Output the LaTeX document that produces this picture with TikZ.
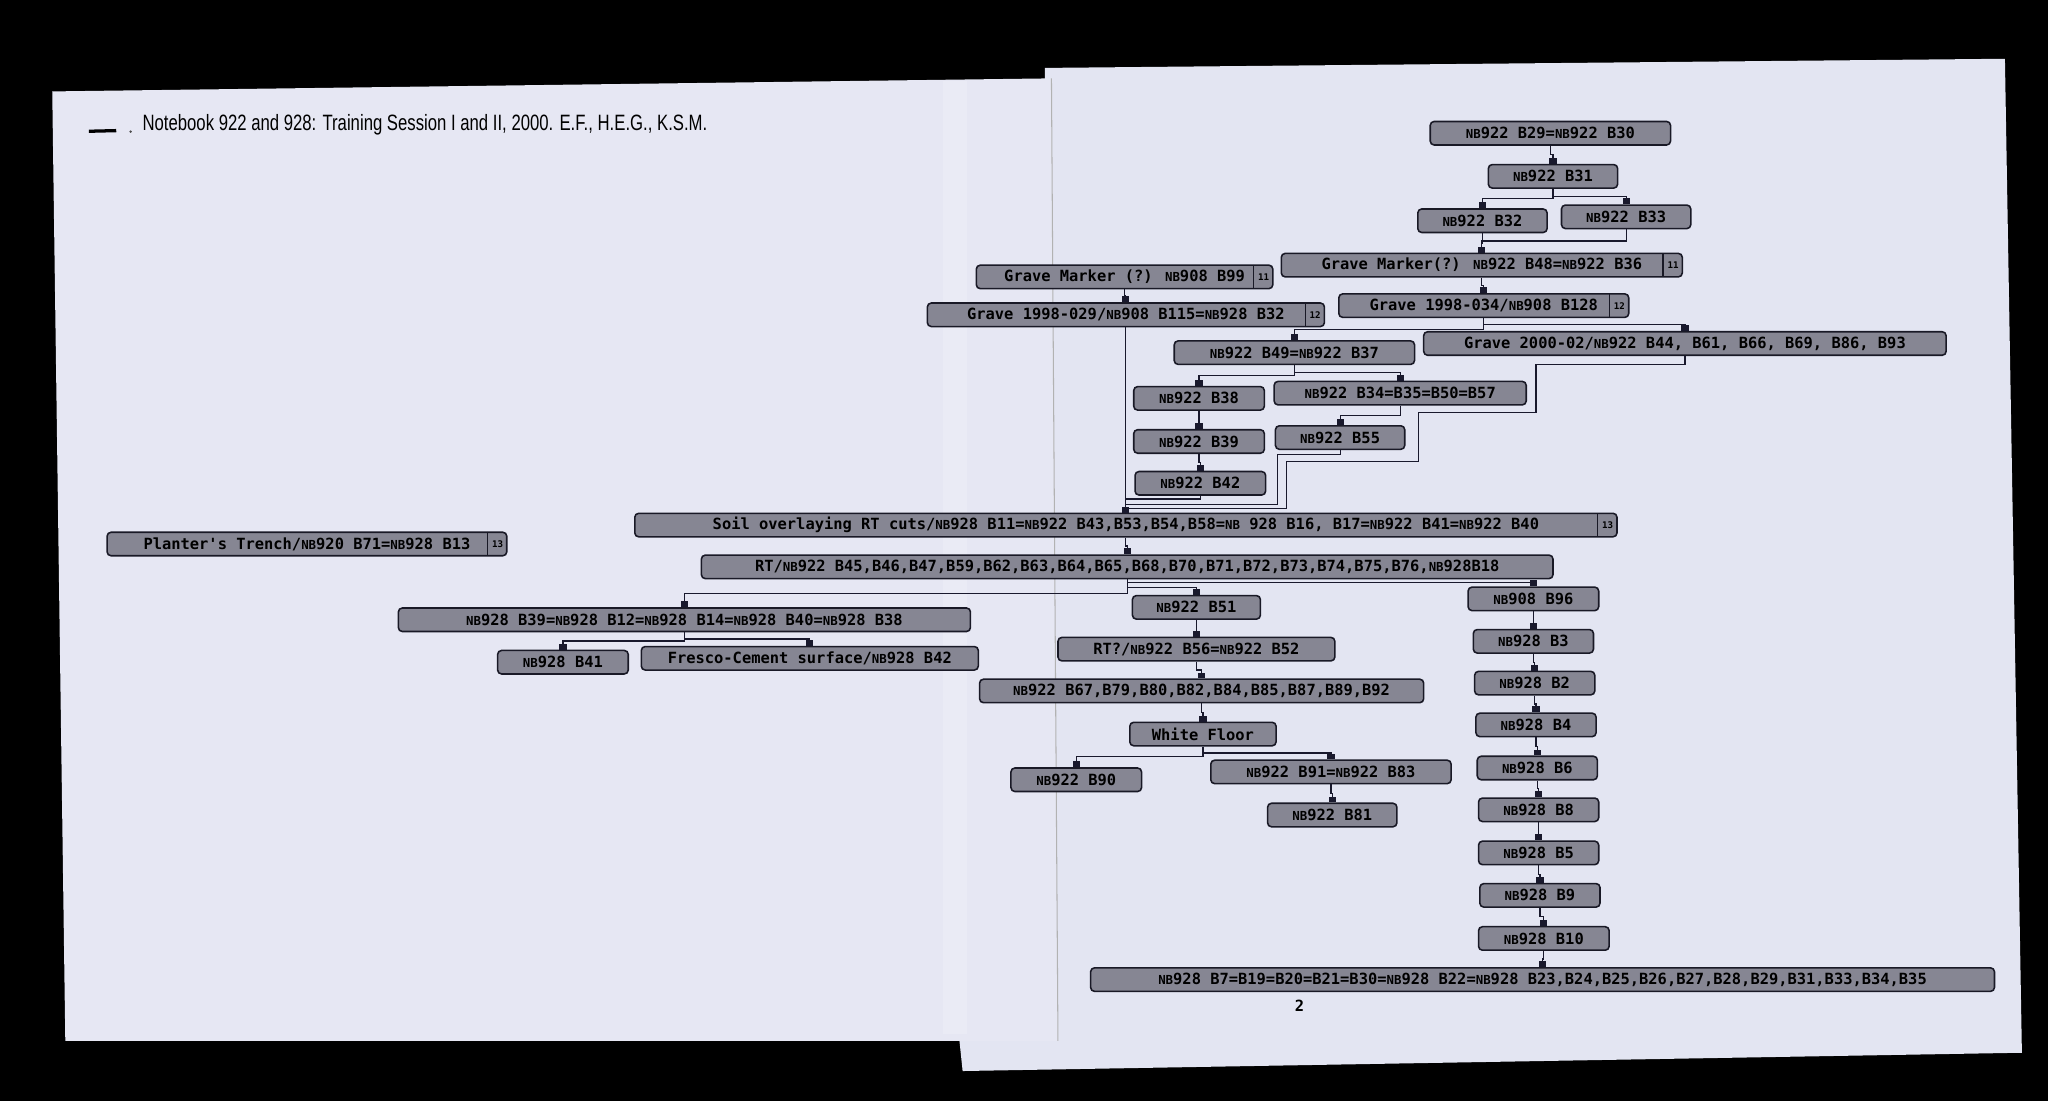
\documentclass[tikz,border=0pt]{standalone}
\usepackage{fontspec}
\newfontfamily\boxfont{DejaVu Sans Mono}
\newfontfamily\titlefont{Liberation Sans}
\usetikzlibrary{arrows.meta,calc}

\definecolor{paperL}{RGB}{230,231,243}
\definecolor{paperR}{RGB}{227,229,242}
\definecolor{boxfill}{RGB}{134,134,147}
\definecolor{boxline}{RGB}{25,25,38}
\definecolor{linecol}{RGB}{25,25,45}
\newcommand{\NBs}{{\fontsize{9.5}{10}\selectfont NB}}

\begin{document}
\begin{tikzpicture}[x=1pt, y=-1pt,
font=\boxfont\bfseries\fontsize{11.8}{14}\selectfont,
unit/.style={draw=boxline, fill=boxfill, line width=1.2pt, rounded corners=3pt,
    minimum height=18pt, inner sep=0pt, anchor=center},
tagcell/.style={minimum width=15pt, minimum height=18pt, inner sep=0pt, anchor=east,
    font=\boxfont\bfseries\fontsize{7}{8}\selectfont},
link/.style={draw=linecol, line width=0.9pt, -{Square[length=4.5pt,width=5.5pt]},
    to path={|- ($(\tikztostart)!.5!(\tikztotarget)$) -| (\tikztotarget)}},
merge/.style={draw=linecol, line width=0.9pt},
]
\useasboundingbox (0,0) rectangle (1568,843);

% scanned sheets
\fill[black] (0,0) rectangle (1568,843);
\fill[paperR] (800,52) -- (1535,45) -- (1548,806) -- (737,820) -- (733,782) -- (800,782) -- cycle;
\fill[paperL] (40,70) -- (805,60) -- (810,797) -- (50,797) -- cycle;
\fill[white, opacity=0.18] (722,62) rectangle (740,792);
\draw[gray!60, line width=0.8pt] (805,60) -- (810,797);

% header
\draw[black, line width=2.5pt] (68,100.5) -- (89,100);
\fill[black!70] (100,100.8) circle (1pt);
\node[font=\titlefont\fontsize{17}{20}\selectfont, anchor=base west, xscale=0.753, inner sep=0pt] (title) at (109,100)
  {Notebook 922 and 928: Training Session I and II, 2000. E.F., H.E.G., K.S.M.};

% top of the matrix
\node[unit, minimum width=184pt] (b2930) at (1187,102) {\NBs922 B29=\NBs922 B30};
\node[unit, minimum width=99pt] (b31) at (1189,135) {\NBs922 B31};
\node[unit, minimum width=99pt] (b32) at (1135,169) {\NBs922 B32};
\node[unit, minimum width=99pt] (b33) at (1245,166) {\NBs922 B33};

\node[unit, minimum width=307pt] (gm922) at (1134.5,203) {Grave Marker(?) \NBs922 B48=\NBs922 B36\hspace{15pt}};
\node[tagcell] (gm922t) at (gm922.east) {11};
\draw[boxline, line width=0.8pt] (gm922t.north west) -- (gm922t.south west);

\node[unit, minimum width=227pt] (gm908) at (861,212) {Grave Marker (?) \NBs908 B99\hspace{15pt}};
\node[tagcell] (gm908t) at (gm908.east) {11};
\draw[boxline, line width=0.8pt] (gm908t.north west) -- (gm908t.south west);

\node[unit, minimum width=304pt] (g029) at (862,241) {Grave 1998-029/\NBs908 B115=\NBs928 B32\hspace{15pt}};
\node[tagcell] (g029t) at (g029.east) {12};
\draw[boxline, line width=0.8pt] (g029t.north west) -- (g029t.south west);

\node[unit, minimum width=222pt] (g034) at (1136,234) {Grave 1998-034/\NBs908 B128\hspace{15pt}};
\node[tagcell] (g034t) at (g034.east) {12};
\draw[boxline, line width=0.8pt] (g034t.north west) -- (g034t.south west);

\node[unit, minimum width=184pt] (b4937) at (991,270) {\NBs922 B49=\NBs922 B37};
\node[unit, minimum width=400pt] (g2000) at (1290,263) {Grave 2000-02/\NBs922 B44, B61, B66, B69, B86, B93};
\node[unit, minimum width=100pt] (b38) at (918,305) {\NBs922 B38};
\node[unit, minimum width=193pt] (b34) at (1072,301) {\NBs922 B34=B35=B50=B57};
\node[unit, minimum width=100pt] (b39) at (918,338) {\NBs922 B39};
\node[unit, minimum width=99pt] (b55) at (1026,335) {\NBs922 B55};
\node[unit, minimum width=100pt] (b42) at (919,370) {\NBs922 B42};

% soil and RT
\node[unit, minimum width=752pt] (soil) at (862,402) {Soil overlaying RT cuts/\NBs928 B11=\NBs922 B43,B53,B54,B58=\NBs{} 928 B16, B17=\NBs922 B41=\NBs922 B40\hspace{15pt}};
\node[tagcell] (soilt) at (soil.east) {13};
\draw[boxline, line width=0.8pt] (soilt.north west) -- (soilt.south west);

\node[unit, minimum width=306pt] (planter) at (235,416.5) {Planter's Trench/\NBs920 B71=\NBs928 B13\hspace{15pt}};
\node[tagcell] (plantert) at (planter.east) {13};
\draw[boxline, line width=0.8pt] (plantert.north west) -- (plantert.south west);

\node[unit, minimum width=652pt] (rt) at (863,434) {RT/\NBs922 B45,B46,B47,B59,B62,B63,B64,B65,B68,B70,B71,B72,B73,B74,B75,B76,\NBs928B18};

% left branch
\node[unit, minimum width=438pt] (b3912) at (524,474.5) {\NBs928 B39=\NBs928 B12=\NBs928 B14=\NBs928 B40=\NBs928 B38};
\node[unit, minimum width=100pt] (b41) at (431,507) {\NBs928 B41};
\node[unit, minimum width=258pt] (fresco) at (620,504) {Fresco-Cement surface/\NBs928 B42};

% middle branch
\node[unit, minimum width=98pt] (b51) at (916,465) {\NBs922 B51};
\node[unit, minimum width=212pt] (rt56) at (916,497) {RT?/\NBs922 B56=\NBs922 B52};
\node[unit, minimum width=340pt] (b67) at (920,529) {\NBs922 B67,B79,B80,B82,B84,B85,B87,B89,B92};
\node[unit, minimum width=112pt] (wf) at (921,562) {White Floor};
\node[unit, minimum width=100pt] (b90) at (824,597) {\NBs922 B90};
\node[unit, minimum width=184pt] (b9183) at (1019,591) {\NBs922 B91=\NBs922 B83};
\node[unit, minimum width=99pt] (b81) at (1020,624) {\NBs922 B81};

% right column
\node[unit, minimum width=100pt] (b96) at (1174,458.5) {\NBs908 B96};
\node[unit, minimum width=92pt] (b3) at (1174,491) {\NBs928 B3};
\node[unit, minimum width=92pt] (b2) at (1175,523) {\NBs928 B2};
\node[unit, minimum width=92pt] (b4) at (1176,555) {\NBs928 B4};
\node[unit, minimum width=92pt] (b6) at (1177,588) {\NBs928 B6};
\node[unit, minimum width=92pt] (b8) at (1178,620) {\NBs928 B8};
\node[unit, minimum width=92pt] (b5) at (1178,653) {\NBs928 B5};
\node[unit, minimum width=92pt] (b9) at (1179,685.5) {\NBs928 B9};
\node[unit, minimum width=100pt] (b10) at (1182,718.5) {\NBs928 B10};
\node[unit, minimum width=692pt] (b7) at (1181,750) {\NBs928 B7=B19=B20=B21=B30=\NBs928 B22=\NBs928 B23,B24,B25,B26,B27,B28,B29,B31,B33,B34,B35};
\node (page) at (995,770) {2};

% connectors
\draw[link] (b2930.south) to (b31.north);
\draw[link] (b31.south) to (b32.north);
\draw[link] (b31.south) to (b33.north);
\draw[link] (b32.south) to (gm922.north);
\draw[link] (b33.south) to (gm922.north);
\draw[link] (gm922.south) to (g034.north);
\draw[link] (gm908.south) to (g029.north);
\draw[link] (g034.south) to (b4937.north);
\draw[link] (g034.south) to (g2000.north);
\draw[link] (b4937.south) to (b38.north);
\draw[link] (b4937.south) to (b34.north);
\draw[link] (b38.south) to (b39.north);
\draw[link] (b39.south) to (b42.north);
\draw[link] (b34.south) to (b55.north);
\draw[link] (g029.south) to (soil.north);

\coordinate (m1) at (862,382);
\coordinate (m2) at (862,386);
\coordinate (m3) at (862,389.5);
\draw[merge] (b42.south) |- (m1);
\draw[merge] (b55.south) |- (978,348) |- (m2);
\draw[merge] (g2000.south) |- (1176,279) |- (1086,316) |- (985,353.5) |- (m3);

\draw[link] (soil.south) to (rt.north);
\draw[link] (rt.south) to (b3912.north);
\draw[link] (rt.south) to (b51.north);
\draw[link] (rt.south) to (b96.north);
\draw[link] (b3912.south) to (b41.north);
\draw[link] (b3912.south) to (fresco.north);

\draw[link] (b51.south) to (rt56.north);
\draw[link] (rt56.south) to (b67.north);
\draw[link] (b67.south) to (wf.north);
\draw[link] (wf.south) to (b90.north);
\draw[link] (wf.south) to (b9183.north);
\draw[link] (b9183.south) to (b81.north);

\draw[link] (b96.south) to (b3.north);
\draw[link] (b3.south) to (b2.north);
\draw[link] (b2.south) to (b4.north);
\draw[link] (b4.south) to (b6.north);
\draw[link] (b6.south) to (b8.north);
\draw[link] (b8.south) to (b5.north);
\draw[link] (b5.south) to (b9.north);
\draw[link] (b9.south) to (b10.north);
\draw[link] (b10.south) to (b7.north);

\end{tikzpicture}
\end{document}
